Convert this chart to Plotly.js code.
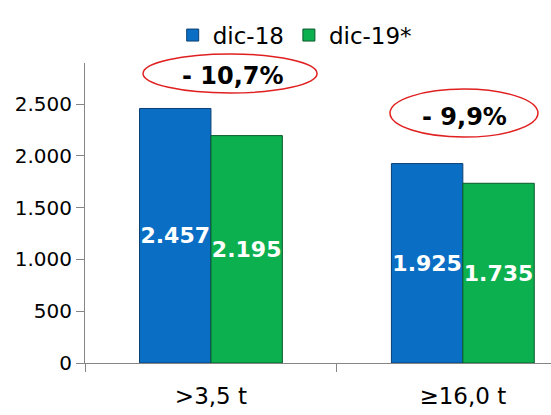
<!DOCTYPE html>
<html>
<head>
<meta charset="utf-8">
<script src="https://cdn.plot.ly/plotly-3.0.1.min.js"></script>
<style>
  html, body { margin: 0; padding: 0; background: #fff; }
  #chart { width: 551px; height: 415px; }
</style>
</head>
<body>
<div id="chart"></div>
<script>
// categories and values
var categories = ['>3,5 t', '\u226516,0 t'];
var dic18 = [2457, 1925];
var dic19 = [2195, 1735];
var seriesNames = ['dic-18', 'dic-19*'];
var changeLabels = ['- 10,7%', '- 9,9%'];

var font = 'DejaVu Sans, Verdana, sans-serif';

function barTrace(name, values, color, edge) {
    return {
        type: 'bar',
        name: name,
        x: categories,
        y: values,
        marker: {
            color: color,
            line: { color: edge, width: 1 }
        },
        texttemplate: '%{y:,d}',
        textposition: 'inside',
        insidetextanchor: 'middle',
        textangle: 0,
        constraintext: 'none',
        textfont: { family: font, size: 22, color: '#ffffff', weight: 'bold' },
        hoverinfo: 'skip'
    };
}

var data = [
    barTrace(seriesNames[0], dic18, '#0A6FC4', '#0B3F73'),
    barTrace(seriesNames[1], dic19, '#0DB04F', '#0A5A2A')
];

var layout = {
    width: 551,
    height: 415,
    margin: { l: 85, r: 0, t: 63, b: 52, pad: 0 },
    paper_bgcolor: '#ffffff',
    plot_bgcolor: '#ffffff',
    separators: ',.',
    font: { family: font, size: 20, color: '#000000' },
    barmode: 'group',
    bargap: 0.433,
    bargroupgap: 0,
    showlegend: true,
    legend: {
        orientation: 'h',
        x: 0.45,
        xanchor: 'center',
        y: 1.093,
        yanchor: 'middle',
        font: { family: font, size: 23, color: '#000000' },
        bgcolor: 'rgba(0,0,0,0)'
    },
    xaxis: {
        type: 'category',
        range: [-0.5, 1.35],
        showline: true,
        linecolor: '#868686',
        linewidth: 1,
        ticks: 'outside',
        tickson: 'boundaries',
        ticklen: 8,
        tickcolor: '#868686',
        ticklabelstandoff: 12,
        showgrid: false,
        tickfont: { family: font, size: 23, color: '#000000' },
        fixedrange: true
    },
    yaxis: {
        range: [0, 2896],
        dtick: 500,
        tickformat: ',d',
        showline: true,
        linecolor: '#868686',
        linewidth: 1,
        ticks: 'outside',
        ticklen: 8,
        tickcolor: '#868686',
        showgrid: false,
        zeroline: false,
        tickfont: { family: font, size: 20, color: '#000000' },
        fixedrange: true
    },
    shapes: [
        { type: 'circle', xref: 'paper', yref: 'paper',
          x0: 0.1245, x1: 0.498, y0: 0.90, y1: 1.03,
          line: { color: '#E02020', width: 1.5 } },
        { type: 'circle', xref: 'paper', yref: 'paper',
          x0: 0.6545, x1: 0.972, y0: 0.753, y1: 0.913,
          line: { color: '#E02020', width: 1.5 } }
    ],
    annotations: [
        { xref: 'paper', yref: 'paper', x: 0.3166, y: 0.958,
          xanchor: 'center', yanchor: 'middle', showarrow: false,
          text: '<b>' + changeLabels[0] + '</b>',
          font: { family: font, size: 24, color: '#000000' } },
        { xref: 'paper', yref: 'paper', x: 0.815, y: 0.82,
          xanchor: 'center', yanchor: 'middle', showarrow: false,
          text: '<b>' + changeLabels[1] + '</b>',
          font: { family: font, size: 24, color: '#000000' } }
    ]
};

Plotly.newPlot('chart', data, layout, { displayModeBar: false, staticPlot: true });
</script>
</body>
</html>
